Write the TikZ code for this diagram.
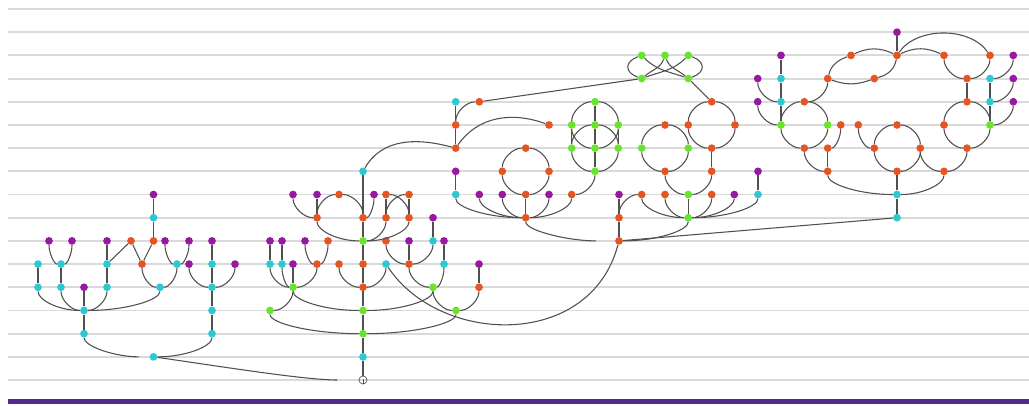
\documentclass[tikz,border=0pt]{standalone}
\usetikzlibrary{calc}
\definecolor{cP}{RGB}{150,25,160}
\definecolor{cC}{RGB}{45,200,210}
\definecolor{cO}{RGB}{228,85,35}
\definecolor{cG}{RGB}{105,228,45}
\definecolor{cE}{RGB}{80,80,80}
\definecolor{cBar}{RGB}{82,42,140}
\definecolor{cGrid}{RGB}{218,218,218}
\tikzset{
  dot/.style={circle,inner sep=0pt,minimum size=5.8pt},
  dotP/.style={dot,fill=cP},
  dotC/.style={dot,fill=cC},
  dotO/.style={dot,fill=cO},
  dotG/.style={dot,fill=cG},
  ln/.style={draw=cE,line width=0.8pt},
  gridline/.style={draw=cGrid,line width=1.4pt},
  rootnode/.style={circle,draw=cE,line width=0.5pt,inner sep=0pt,minimum size=6pt}
}
\newcommand\mkd[4]{\node[dot#2] (#1) at (#3,{9+23.19*#4}) {};}
\newcommand\Vl[2]{\draw[ln] (#1) -- (#2);}
\newcommand\Qv[2]{\draw[ln] (#1) .. controls ($(#1)!0.55!(#1|-#2)$) and ($(#2)!0.55!(#1|-#2)$) .. (#2);}
\newcommand\Qh[2]{\draw[ln] (#1) .. controls ($(#1)!0.55!(#2|-#1)$) and ($(#2)!0.55!(#2|-#1)$) .. (#2);}
\newcommand\Ring[4]{\Qh{#1}{#2}\Qv{#2}{#4}\Qh{#4}{#3}\Qv{#3}{#1}}
\begin{document}
\begin{tikzpicture}[x=0.75pt,y=-0.75pt]
\useasboundingbox[fill=white] (0,0) rectangle (1029,405);
\foreach \k in {0,...,16} \draw[gridline] (8,{9+23.19*\k}) -- (1029,{9+23.19*\k});
\fill[cBar] (8,399) rectangle (1029,404);

% ---------- left tree
\mkd{a1}{P}{153.5}{8}
\mkd{a2}{C}{153.5}{9}
\mkd{a3}{P}{49}{10}
\mkd{a4}{P}{72}{10}
\mkd{a5}{P}{107}{10}
\mkd{a6}{O}{131}{10}
\mkd{a7}{O}{153.5}{10}
\mkd{a8}{P}{165}{10}
\mkd{a9}{P}{189}{10}
\mkd{a10}{P}{212}{10}
\mkd{a11}{C}{38}{11}
\mkd{a12}{C}{61}{11}
\mkd{a13}{C}{107}{11}
\mkd{a14}{O}{142}{11}
\mkd{a15}{C}{177}{11}
\mkd{a16}{P}{189}{11}
\mkd{a17}{C}{212}{11}
\mkd{a18}{P}{235}{11}
\mkd{a19}{C}{38}{12}
\mkd{a20}{C}{61}{12}
\mkd{a21}{P}{84}{12}
\mkd{a22}{C}{107}{12}
\mkd{a23}{C}{160}{12}
\mkd{a24}{C}{212}{12}
\mkd{a25}{C}{84}{13}
\mkd{a26}{C}{212}{13}
\mkd{a27}{C}{84}{14}
\mkd{a28}{C}{212}{14}
\mkd{a29}{C}{153.5}{15}

% ---------- trunk tree
\mkd{b1}{C}{363}{7}
\mkd{b2}{P}{293}{8}
\mkd{b3}{P}{317}{8}
\mkd{b4}{O}{339}{8}
\mkd{b5}{P}{374}{8}
\mkd{b6}{O}{386}{8}
\mkd{b7}{O}{409}{8}
\mkd{b8}{O}{317}{9}
\mkd{b9}{O}{363}{9}
\mkd{b10}{O}{386}{9}
\mkd{b11}{O}{409}{9}
\mkd{b12}{P}{433}{9}
\mkd{b13}{P}{270}{10}
\mkd{b14}{P}{282}{10}
\mkd{b15}{P}{305}{10}
\mkd{b16}{O}{328}{10}
\mkd{b17}{G}{363}{10}
\mkd{b18}{O}{386}{10}
\mkd{b19}{P}{409}{10}
\mkd{b20}{C}{433}{10}
\mkd{b21}{P}{444}{10}
\mkd{b22}{C}{270}{11}
\mkd{b23}{C}{282}{11}
\mkd{b24}{P}{293}{11}
\mkd{b25}{O}{317}{11}
\mkd{b26}{O}{339}{11}
\mkd{b27}{O}{363}{11}
\mkd{b28}{C}{386}{11}
\mkd{b29}{O}{409}{11}
\mkd{b30}{C}{444}{11}
\mkd{b31}{P}{479}{11}
\mkd{b32}{G}{293}{12}
\mkd{b33}{O}{363}{12}
\mkd{b34}{G}{433}{12}
\mkd{b35}{O}{479}{12}
\mkd{b36}{G}{270}{13}
\mkd{b37}{G}{363}{13}
\mkd{b38}{G}{456}{13}
\mkd{b39}{G}{363}{14}
\mkd{b40}{C}{363}{15}
\node[rootnode] (root) at (363,380) {};

% ---------- middle cluster
\mkd{c1}{G}{641.7}{2}
\mkd{c2}{G}{665}{2}
\mkd{c3}{G}{688.3}{2}
\mkd{c4}{G}{641.7}{3}
\mkd{c5}{G}{688.3}{3}
\mkd{c6}{C}{455.7}{4}
\mkd{c7}{O}{479.3}{4}
\mkd{c8}{G}{595}{4}
\mkd{c9}{O}{711.7}{4}
\mkd{c10}{O}{455.7}{5}
\mkd{c11}{O}{549}{5}
\mkd{c12}{G}{571.7}{5}
\mkd{c13}{G}{595}{5}
\mkd{c14}{G}{618.3}{5}
\mkd{c15}{O}{665}{5}
\mkd{c16}{O}{688.3}{5}
\mkd{c17}{O}{735}{5}
\mkd{c18}{O}{455.7}{6}
\mkd{c19}{O}{525.7}{6}
\mkd{c20}{G}{571.7}{6}
\mkd{c21}{G}{595}{6}
\mkd{c22}{G}{618.3}{6}
\mkd{c23}{G}{641.7}{6}
\mkd{c24}{G}{688.3}{6}
\mkd{c25}{O}{711.7}{6}
\mkd{c26}{P}{455.7}{7}
\mkd{c27}{O}{502.3}{7}
\mkd{c28}{O}{549}{7}
\mkd{c29}{G}{595}{7}
\mkd{c30}{O}{665}{7}
\mkd{c31}{O}{711.7}{7}
\mkd{c32}{P}{758}{7}
\mkd{c33}{C}{455.7}{8}
\mkd{c34}{P}{479.3}{8}
\mkd{c35}{P}{502.3}{8}
\mkd{c36}{O}{525.7}{8}
\mkd{c37}{P}{549}{8}
\mkd{c38}{O}{571.7}{8}
\mkd{c39}{P}{619}{8}
\mkd{c40}{O}{641.7}{8}
\mkd{c41}{O}{665}{8}
\mkd{c42}{G}{688.3}{8}
\mkd{c43}{O}{711.7}{8}
\mkd{c44}{P}{734.3}{8}
\mkd{c45}{C}{758}{8}
\mkd{c46}{O}{525.7}{9}
\mkd{c47}{O}{619}{9}
\mkd{c48}{G}{688.3}{9}
\mkd{c49}{O}{619}{10}

% ---------- right cluster
\mkd{d1}{P}{897}{1}
\mkd{d2}{P}{781}{2}
\mkd{d3}{O}{851}{2}
\mkd{d4}{O}{897}{2}
\mkd{d5}{O}{944}{2}
\mkd{d6}{O}{990}{2}
\mkd{d7}{P}{1013.3}{2}
\mkd{d8}{P}{757.7}{3}
\mkd{d9}{C}{781}{3}
\mkd{d10}{O}{827.7}{3}
\mkd{d11}{O}{874.3}{3}
\mkd{d12}{O}{967}{3}
\mkd{d13}{C}{990}{3}
\mkd{d14}{P}{1013.3}{3}
\mkd{d15}{P}{757.7}{4}
\mkd{d16}{C}{781}{4}
\mkd{d17}{O}{804.3}{4}
\mkd{d18}{O}{967}{4}
\mkd{d19}{C}{990}{4}
\mkd{d20}{P}{1013.3}{4}
\mkd{d21}{G}{781}{5}
\mkd{d22}{G}{827.7}{5}
\mkd{d23}{O}{840.7}{5}
\mkd{d24}{O}{858.3}{5}
\mkd{d25}{O}{897}{5}
\mkd{d26}{O}{944}{5}
\mkd{d27}{G}{990}{5}
\mkd{d28}{O}{804.3}{6}
\mkd{d29}{O}{827.7}{6}
\mkd{d30}{O}{874.3}{6}
\mkd{d31}{O}{920.3}{6}
\mkd{d32}{O}{967}{6}
\mkd{d33}{O}{827.7}{7}
\mkd{d34}{O}{897}{7}
\mkd{d35}{O}{944}{7}
\mkd{d36}{C}{897}{8}
\mkd{d37}{C}{897}{9}

% ===== edges: left tree
\Vl{a1}{a2}\Vl{a2}{a7}
\Vl{a7}{a14}\Vl{a6}{a14}\Vl{a6}{a13}
\Vl{a5}{a13}\Vl{a13}{a22}
\Qv{a3}{a12}\Qv{a4}{a12}\Vl{a12}{a20}\Vl{a11}{a19}
\Qv{a14}{a23}\Qv{a8}{a15}\Qv{a9}{a15}\Qv{a15}{a23}
\Vl{a21}{a25}
\Qv{a19}{a25}\Qv{a20}{a25}\Qv{a22}{a25}\Qv{a23}{a25}
\Vl{a25}{a27}
\Vl{a10}{a17}\Vl{a17}{a24}\Qv{a16}{a24}\Qv{a18}{a24}
\Vl{a24}{a26}\Vl{a26}{a28}
\draw[ln,shorten >=8pt] (a27) .. controls ($(a27)!0.55!(a27|-a29)$) and ($(a29)!0.55!(a27|-a29)$) .. (a29);
\Qv{a28}{a29}
\draw[ln,shorten >=16pt] (a29) to[out=-8,in=180,looseness=0.7] (root);

% ===== edges: trunk tree
\Vl{b1}{b9}\Vl{b9}{b17}\Vl{b17}{b27}\Vl{b27}{b33}\Vl{b33}{b37}
\Vl{b37}{b39}\Vl{b39}{b40}\Vl{b40}{root}
\draw[ln,line width=0.5pt] (root.south) -- ++(0,-5);
\Qv{b2}{b8}\Vl{b3}{b8}\Qv{b8}{b4}\Qh{b4}{b9}\Qv{b5}{b9}
\Vl{b6}{b10}\Vl{b7}{b11}\Qh{b6}{b11}\Qh{b7}{b10}
\Qv{b8}{b17}\Qv{b10}{b17}\Qv{b11}{b17}
\Vl{b13}{b22}\Vl{b14}{b23}\Qv{b15}{b25}\Qv{b16}{b25}
\Qv{b22}{b32}\Qv{b23}{b32}\Vl{b24}{b32}\Qv{b25}{b32}
\Qv{b26}{b33}\Qv{b28}{b33}
\Qv{b18}{b29}\Vl{b19}{b29}\Qv{b20}{b29}\Vl{b12}{b20}
\Qv{b29}{b34}\Qv{b30}{b34}\Vl{b21}{b30}
\Qv{b32}{b37}\Qv{b34}{b37}
\Qv{b32}{b36}\Qv{b36}{b39}
\Qv{b34}{b38}\Qv{b35}{b38}\Vl{b31}{b35}\Qv{b38}{b39}
\draw[ln] (b28) .. controls (440,345) and (590,350) .. (c49);
\draw[ln] (b1) to[out=60,in=165] (c18);

% ===== edges: middle cluster
\draw[ln] (c1) to[out=200,in=160,looseness=1.8] (c4);
\draw[ln] (c3) to[out=-20,in=20,looseness=1.8] (c5);
\draw[ln] (c1) to[out=-45,in=160] (c5);
\draw[ln] (c3) to[out=-135,in=20] (c4);
\draw[ln] (c2) to[out=-110,in=40] (c4);
\draw[ln] (c2) to[out=-70,in=140] (c5);
\Vl{c4}{c7}\Vl{c5}{c9}
\Vl{c6}{c10}\Vl{c10}{c18}\Qh{c7}{c10}
\draw[ln] (c18) to[out=55,in=160] (c11);
\Ring{c19}{c27}{c28}{c36}
\Ring{c8}{c12}{c14}{c21}
\Ring{c13}{c20}{c22}{c29}
\Vl{c12}{c20}\Vl{c14}{c22}\Vl{c8}{c13}\Vl{c13}{c21}\Vl{c21}{c29}
\Ring{c15}{c23}{c24}{c30}
\Ring{c9}{c16}{c17}{c25}
\Vl{c25}{c31}
\Qv{c30}{c42}\Qv{c31}{c42}
\Vl{c42}{c48}
\Qv{c40}{c48}\Qv{c41}{c48}\Qv{c43}{c48}\Qv{c44}{c48}\Qv{c45}{c48}
\Vl{c32}{c45}
\Vl{c26}{c33}
\Qv{c33}{c46}\Qv{c34}{c46}\Qv{c35}{c46}\Qv{c37}{c46}\Qv{c38}{c46}\Vl{c36}{c46}
\Qv{c29}{c38}
\Qh{c40}{c47}\Vl{c39}{c47}\Vl{c47}{c49}
\Qv{c48}{c49}
\draw[ln,shorten >=14pt] (c46) .. controls ($(c46)!0.55!(c46|-c49)$) and ($(c49)!0.55!(c46|-c49)$) .. (c49);
\Vl{c49}{d37}

% ===== edges: right cluster
\Vl{d1}{d4}
\draw[ln] (d3) to[out=25,in=155] (d4);
\draw[ln] (d3) to[out=200,in=75] (d10);
\draw[ln] (d10) to[out=-20,in=200] (d11);
\draw[ln] (d11) to[out=15,in=-100] (d4);
\draw[ln] (d4) to[out=25,in=155] (d5);
\draw[ln] (d4) to[out=55,in=125,looseness=0.9] (d6);
\Qv{d5}{d12}\Qv{d6}{d12}
\Vl{d12}{d18}
\Ring{d18}{d26}{d27}{d32}
\Vl{d13}{d19}\Vl{d19}{d27}
\Qv{d7}{d13}\Qv{d14}{d19}\Qv{d20}{d27}
\Qv{d10}{d17}
\Ring{d17}{d21}{d22}{d28}
\Vl{d2}{d9}\Vl{d9}{d16}\Vl{d16}{d21}
\Qv{d8}{d16}\Qv{d15}{d21}
\Qv{d23}{d29}\Vl{d29}{d33}\Qv{d28}{d33}
\Qv{d24}{d30}
\Ring{d25}{d30}{d31}{d34}
\Qv{d31}{d35}\Qv{d32}{d35}
\Vl{d34}{d36}\Qv{d33}{d36}\Qv{d35}{d36}\Vl{d36}{d37}
\end{tikzpicture}
\end{document}
